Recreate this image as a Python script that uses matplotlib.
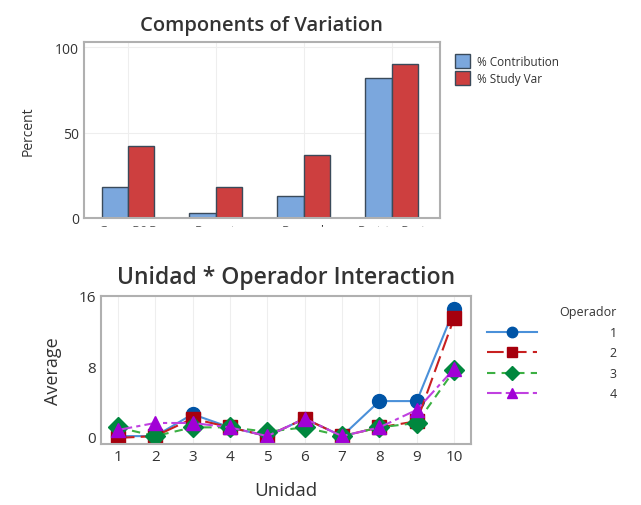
import matplotlib
matplotlib.use("Agg")
import matplotlib.pyplot as plt
import numpy as np

plt.rcParams['font.family'] = ['Open Sans', 'DejaVu Sans']

# components of variation
components = ["Gage R&R", "Repeat", "Reprod", "Part-to-Part"]
pct_contribution = [18, 3, 13, 82]
pct_study_var = [42, 18, 37, 90]

# interaction plot
unidad = [1, 2, 3, 4, 5, 6, 7, 8, 9, 10]
op1 = [0.0, 0.0, 2.5, 1.0, 0.0, 2.0, 0.0, 4.0, 4.0, 14.5]
op2 = [-0.2, 0.0, 2.0, 1.0, 0.0, 2.0, 0.0, 1.0, 1.7, 13.5]
op3 = [1.0, 0.0, 1.0, 1.0, 0.5, 1.0, 0.0, 1.0, 1.5, 7.5]
op4 = [0.7, 1.5, 1.5, 1.0, 0.0, 2.0, 0.0, 1.0, 3.0, 7.7]
operadores = ["1", "2", "3", "4"]

W, H = 641, 506
fig = plt.figure(figsize=(W / 100, H / 100), dpi=100)

def box(l, t, r, b):
    return [l / W, 1 - b / H, (r - l) / W, (b - t) / H]

txt = "#333333"

# --- top chart ---
ax1 = fig.add_axes(box(84, 43, 440, 219))
x = np.arange(len(components))
w = 0.3
ax1.bar(x - w / 2, pct_contribution, w, color="#7BA7DD", edgecolor="#3a4a5a", linewidth=1)
ax1.bar(x + w / 2, pct_study_var, w, color="#CD3F3F", edgecolor="#3a4a5a", linewidth=1)
ax1.set_xlim(-0.5, 3.55)
ax1.set_ylim(0, 103)
ax1.set_yticks([0, 50, 100])
ax1.set_xticks(x)
ax1.set_xticklabels(components, fontsize=9, color=txt)
ax1.tick_params(axis="y", labelsize=10, colors=txt, length=0)
ax1.tick_params(axis="x", length=0, pad=4)
ax1.grid(True, color="#eeeeee", linewidth=0.8)
ax1.set_axisbelow(True)
for s in ax1.spines.values():
    s.set_color("#b0b0b0")
    s.set_linewidth(1.5)
ax1.set_ylabel("Percent", fontsize=10, color=txt, labelpad=14)
ax1.set_title("Components of Variation", fontsize=14.5, color=txt, pad=9,
              fontweight="semibold")
ax1.legend(["% Contribution", "% Study Var"], loc="upper left", bbox_to_anchor=(1.03, 0.96),
           frameon=False, fontsize=8.5, handlelength=1.25, handleheight=1.5,
           labelcolor=txt, borderaxespad=0, labelspacing=0.2, handletextpad=0.6)

# tick labels of the top chart are cut off in the reference
fig.patches.append(plt.Rectangle((0, 1 - 245 / H), 1, 17 / H, transform=fig.transFigure,
                                 color="white", zorder=10))

# --- bottom chart ---
ax2 = fig.add_axes(box(101, 297, 471, 445))
series = [op1, op2, op3, op4]
colors = ["#0054A6", "#A6000D", "#00873E", "#A100D6"]
markers = ["o", "s", "D", "^"]
styles = ["-", (0, (8, 3)), (0, (4, 3)), (0, (7, 2, 2, 2))]
lcolors = ["#4a90d9", "#c82020", "#3cb043", "#c040e0"]
for ys, c, lc, m, ls, lab in zip(series, colors, lcolors, markers, styles, operadores):
    ax2.plot(unidad, ys, color=lc, linestyle=ls, linewidth=1.5, marker=m,
             markersize=10, markerfacecolor=c, markeredgecolor=c, label=lab)
ax2.set_xlim(0.55, 10.45)
ax2.set_ylim(-0.9, 16)
ax2.set_yticks([0, 8, 16])
ax2.set_xticks(unidad)
ax2.tick_params(labelsize=11, colors=txt, length=0)
ax2.grid(True, axis="x", color="#eeeeee", linewidth=0.8)
for s in ax2.spines.values():
    s.set_color("#b0b0b0")
    s.set_linewidth(1.5)
ax2.set_xlabel("Unidad", fontsize=13.5, color=txt, labelpad=12)
ax2.set_ylabel("Average", fontsize=13, color=txt, labelpad=12)
ax2.set_title("Unidad * Operador Interaction", fontsize=16.5, color=txt, pad=9,
              fontweight="semibold")
leg = ax2.legend(title="Operador", loc="upper left", bbox_to_anchor=(1.03, 0.97),
                 frameon=False, fontsize=9, title_fontsize=9, handlelength=4,
                 markerscale=0.75, alignment="right", labelcolor=txt, borderaxespad=0,
                 labelspacing=0.6, handletextpad=5.8)
leg.get_title().set_color(txt)

fig.savefig("out.png", dpi=100)
